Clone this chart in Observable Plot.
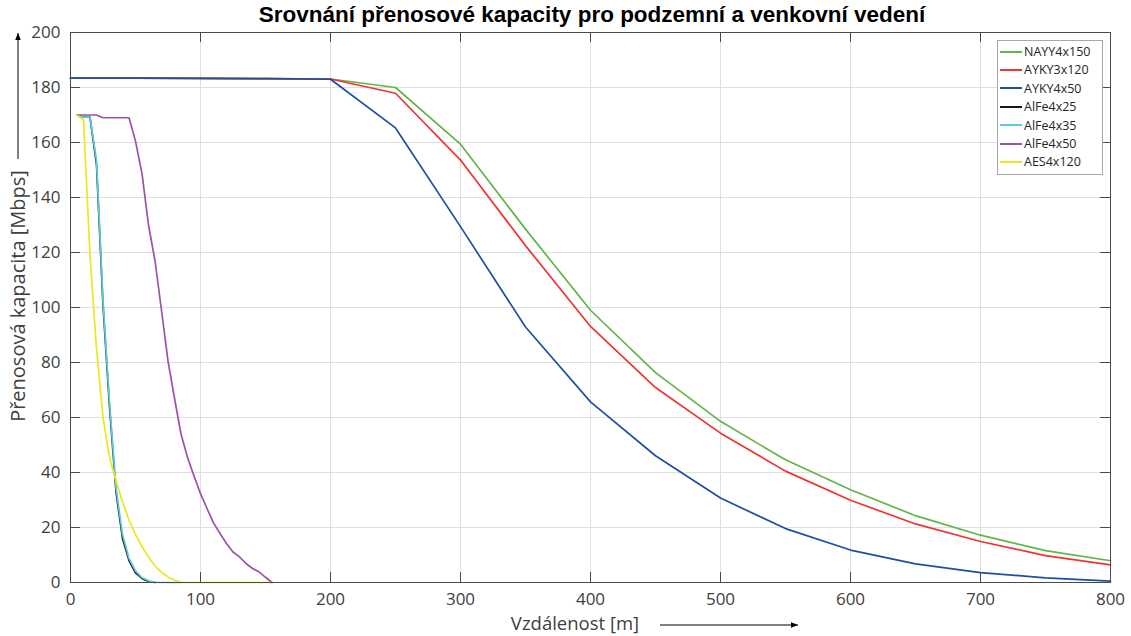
<!DOCTYPE html>
<html>
<head>
<meta charset="utf-8">
<script src="https://cdn.jsdelivr.net/npm/d3@7"></script>
<script src="https://cdn.jsdelivr.net/npm/@observablehq/plot@0.6"></script>
<style>
  body { margin: 0; background: #fff; }
  #wrap { position: relative; width: 1131px; height: 636px; font-family: "Open Sans", sans-serif; overflow: hidden; background: #fff; }
  #title { position: absolute; left: 70px; width: 1044px; top: 2px; text-align: center;
           font: bold 22.5px "Liberation Sans", Arial, sans-serif; line-height: 25px; color: #000; }
  #chart { position: absolute; left: 0; top: 14px; }
  #ylabel { position: absolute; left: 18px; top: 296px; transform: translate(-50%, -50%) rotate(-90deg);
            white-space: nowrap; font-size: 20px; line-height: 22px; color: #404040; }
  #xlabel { position: absolute; left: 575px; top: 622px; transform: translate(-50%, -50%);
            white-space: nowrap; font-size: 18.5px; line-height: 19px; color: #404040; }
  #legend { position: absolute; left: 997px; top: 40px; width: 104px; height: 131px; background: #fff;
            border: 1px solid #a8a8a8; box-sizing: content-box; padding-top: 2px; }
  .item { height: 18.4px; line-height: 18.4px; font-size: 12.5px; color: #262626; white-space: nowrap; }
  .sw { display: inline-block; width: 22px; height: 0; border-top: 2px solid; vertical-align: middle; margin: 0 2px 0 2px; position: relative; top: -1px; }
  #deco { position: absolute; left: 0; top: 0; pointer-events: none; }
</style>
</head>
<body>
<div id="wrap">
  <div id="chart"></div>
  <div id="title">Srovnání přenosové kapacity pro podzemní a venkovní vedení</div>
  <div id="ylabel">Přenosová kapacita [Mbps]</div>
  <div id="xlabel">Vzdálenost [m]</div>
  <svg id="deco" width="1131" height="636">
    <defs>
      <marker id="ah" viewBox="0 0 10 10" refX="10" refY="5" markerWidth="7" markerHeight="7" orient="auto">
        <path d="M0,1 L10,5 L0,9 z" fill="#000"/>
      </marker>
    </defs>
    <line x1="18" y1="159" x2="18" y2="33" stroke="#000" stroke-width="1" marker-end="url(#ah)"/>
    <line x1="660" y1="625" x2="798" y2="625" stroke="#000" stroke-width="1" marker-end="url(#ah)"/>
  </svg>
  <div id="legend"></div>
</div>
<script>
// Axis ticks
const xTicks = [0, 100, 200, 300, 400, 500, 600, 700, 800];
const yTicks = [0, 20, 40, 60, 80, 100, 120, 140, 160, 180, 200];

// Underground cables: distance [m]
const distU = [0, 50, 100, 150, 200, 250, 300, 350, 400, 450, 500, 550, 600, 650, 700, 750, 800];
const NAYY4x150 = [183.4, 183.4, 183.3, 183.2, 183.1, 180.0, 159.4, 128.5, 99.0, 76.3, 58.6, 44.6, 33.7, 24.3, 17.2, 11.6, 7.9];
const AYKY3x120 = [183.4, 183.4, 183.3, 183.2, 183.1, 177.9, 153.6, 122.5, 93.1, 70.9, 54.3, 40.5, 29.9, 21.3, 14.9, 9.8, 6.4];
const AYKY4x50  = [183.4, 183.4, 183.3, 183.2, 183.0, 165.3, 129.4, 92.9, 65.7, 46.1, 30.7, 19.6, 11.8, 6.8, 3.6, 1.7, 0.5];

// Overhead lines: distance [m]
const distO = [5, 10, 15, 20, 25, 30, 35, 40, 45, 50, 55, 60, 65, 70, 75, 80, 85, 90, 95, 100,
               105, 110, 115, 120, 125, 130, 135, 140, 145, 150, 155];
const AlFe4x25 = [170, 169.2, 169.2, 152, 101, 64, 33, 16, 8, 3.5, 1.5, 0.4, 0,
                  null, null, null, null, null, null, null, null, null, null, null, null, null, null, null, null, null, null];
const AlFe4x35 = [170, 169.2, 169.2, 153.5, 102.5, 65.5, 34.5, 17.5, 8.8, 4.2, 1.8, 0.6, 0.1, 0, 0, 0, 0,
                  null, null, null, null, null, null, null, null, null, null, null, null, null, null];
const AlFe4x50 = [170, 170, 170, 170, 169, 169, 169, 169, 169, 160.5, 148.7, 130, 117, 99, 80.5, 67, 54, 45.5, 38.7, 32.3,
                  26.9, 21.7, 17.8, 14.2, 11.1, 9.3, 6.9, 5.1, 3.9, 1.9, 0];
const AES4x120 = [170, 168.2, 119, 85, 60, 45.5, 37, 29.3, 22.7, 17.5, 13, 9.4, 6, 3.7, 2, 0.9, 0, 0, 0, 0,
                  0, 0, 0, 0, 0, 0, 0, 0, 0, 0, 0];

const seriesNames = ["NAYY4x150", "AYKY3x120", "AYKY4x50", "AlFe4x25", "AlFe4x35", "AlFe4x50", "AES4x120"];
const seriesColors = ["#62b545", "#ee3434", "#1f4fa3", "#1a1a1a", "#5ccbdc", "#9b52a8", "#ece61e"];
const seriesX = [distU, distU, distU, distO, distO, distO, distO];
const seriesY = [NAYY4x150, AYKY3x120, AYKY4x50, AlFe4x25, AlFe4x35, AlFe4x50, AES4x120];

const tables = seriesNames.map((name, i) =>
  seriesX[i].map((x, j) => ({series: name, x, y: seriesY[i][j]})).filter(d => d.y != null));

const W = 1131, H = 622, mT = 18, mB = 54, mL = 70, mR = 21;
const plotH = H - mT - mB, plotW = W - mL - mR;
const axisColor = "#4a4a4a";

const chart = Plot.plot({
  width: W, height: H,
  marginTop: mT, marginBottom: mB, marginLeft: mL, marginRight: mR,
  style: {fontFamily: "'Open Sans', sans-serif", fontSize: "17px", background: "transparent"},
  x: {domain: [0, 800], ticks: xTicks},
  y: {domain: [0, 200], ticks: yTicks},
  color: {domain: seriesNames, range: seriesColors},
  marks: [
    Plot.gridX(xTicks, {stroke: "#dfdfdf", strokeOpacity: 1}),
    Plot.gridY(yTicks, {stroke: "#dfdfdf", strokeOpacity: 1}),
    ...tables.map(t => Plot.line(t, {x: "x", y: "y", stroke: "series", strokeWidth: 1.7})),
    Plot.frame({stroke: axisColor, strokeWidth: 1}),
    Plot.tickX(xTicks, {x: d => d, insetTop: plotH - 10, stroke: axisColor}),
    Plot.tickX(xTicks, {x: d => d, insetBottom: plotH - 10, stroke: axisColor}),
    Plot.tickY(yTicks, {y: d => d, insetRight: plotW - 10, stroke: axisColor}),
    Plot.tickY(yTicks, {y: d => d, insetLeft: plotW - 10, stroke: axisColor}),
    Plot.axisX(xTicks, {tickSize: 0, tickPadding: 10, label: null, color: "#404040", fontSize: 17}),
    Plot.axisY(yTicks, {tickSize: 0, tickPadding: 10, label: null, color: "#404040", fontSize: 17})
  ]
});
document.getElementById("chart").appendChild(chart);

const legend = document.getElementById("legend");
seriesNames.forEach((name, i) => {
  const row = document.createElement("div");
  row.className = "item";
  const sw = document.createElement("span");
  sw.className = "sw";
  sw.style.borderTopColor = seriesColors[i];
  row.appendChild(sw);
  row.appendChild(document.createTextNode(name));
  legend.appendChild(row);
});
</script>
</body>
</html>
